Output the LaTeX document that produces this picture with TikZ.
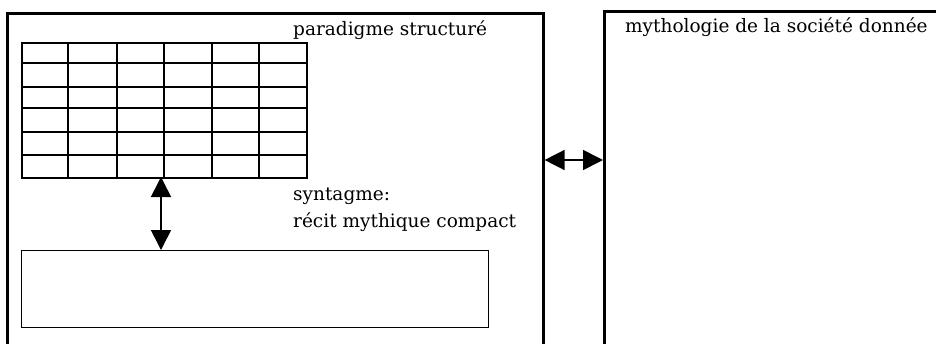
\documentclass[tikz,border=0pt]{standalone}
\usepackage{fontspec}
\setmainfont{DejaVu Serif}
\usetikzlibrary{arrows.meta,positioning}
\begin{document}
\begin{tikzpicture}[x=1pt,y=-1pt,
  outerbox/.style={draw,line width=2.6pt,inner sep=0pt,anchor=north west},
  gridbox/.style={draw,line width=1.8pt,inner sep=0pt,anchor=north west,minimum width=285pt,minimum height=135pt},
  lowbox/.style={draw,line width=1.4pt,inner sep=0pt,anchor=north west,minimum width=467pt,minimum height=77pt},
  lbl/.style={anchor=base west,inner sep=0pt,font=\fontsize{18.5}{27}\selectfont},
  dbl/.style={line width=1.6pt,{Triangle[width=20pt,length=20pt]}-{Triangle[width=20pt,length=20pt]}}
]
\useasboundingbox (0,0) rectangle (936,343);
\node[outerbox,minimum width=536pt,minimum height=360pt] (left) at (6,12) {};
\node[outerbox,minimum width=345pt,minimum height=360pt] (right) at (603,10) {};
\node[gridbox] (grid) at (21,42) {};
\foreach \x in {68,117,164,212,259} \draw[line width=1.8pt] (\x,42) -- (\x,177);
\foreach \y in {63,87,108,132,155} \draw[line width=1.8pt] (21,\y) -- (306,\y);
\node[lowbox] (low) at (21,250) {};
\node[lbl] (para) at (293,35) {paradigme structuré};
\node[lbl] (synt) at (293,200) {syntagme:};
\node[lbl] (recit) at (293,227) {récit mythique compact};
\node[lbl] (myth) at (625,32) {mythologie de la société donnée};
\coordinate (atop) at (161,177);
\draw[dbl] (atop) -- (atop |- low.north);
\coordinate (hmid) at (573,160);
\draw[dbl] (hmid -| left.east) -- (hmid -| right.west);
\end{tikzpicture}
\end{document}
